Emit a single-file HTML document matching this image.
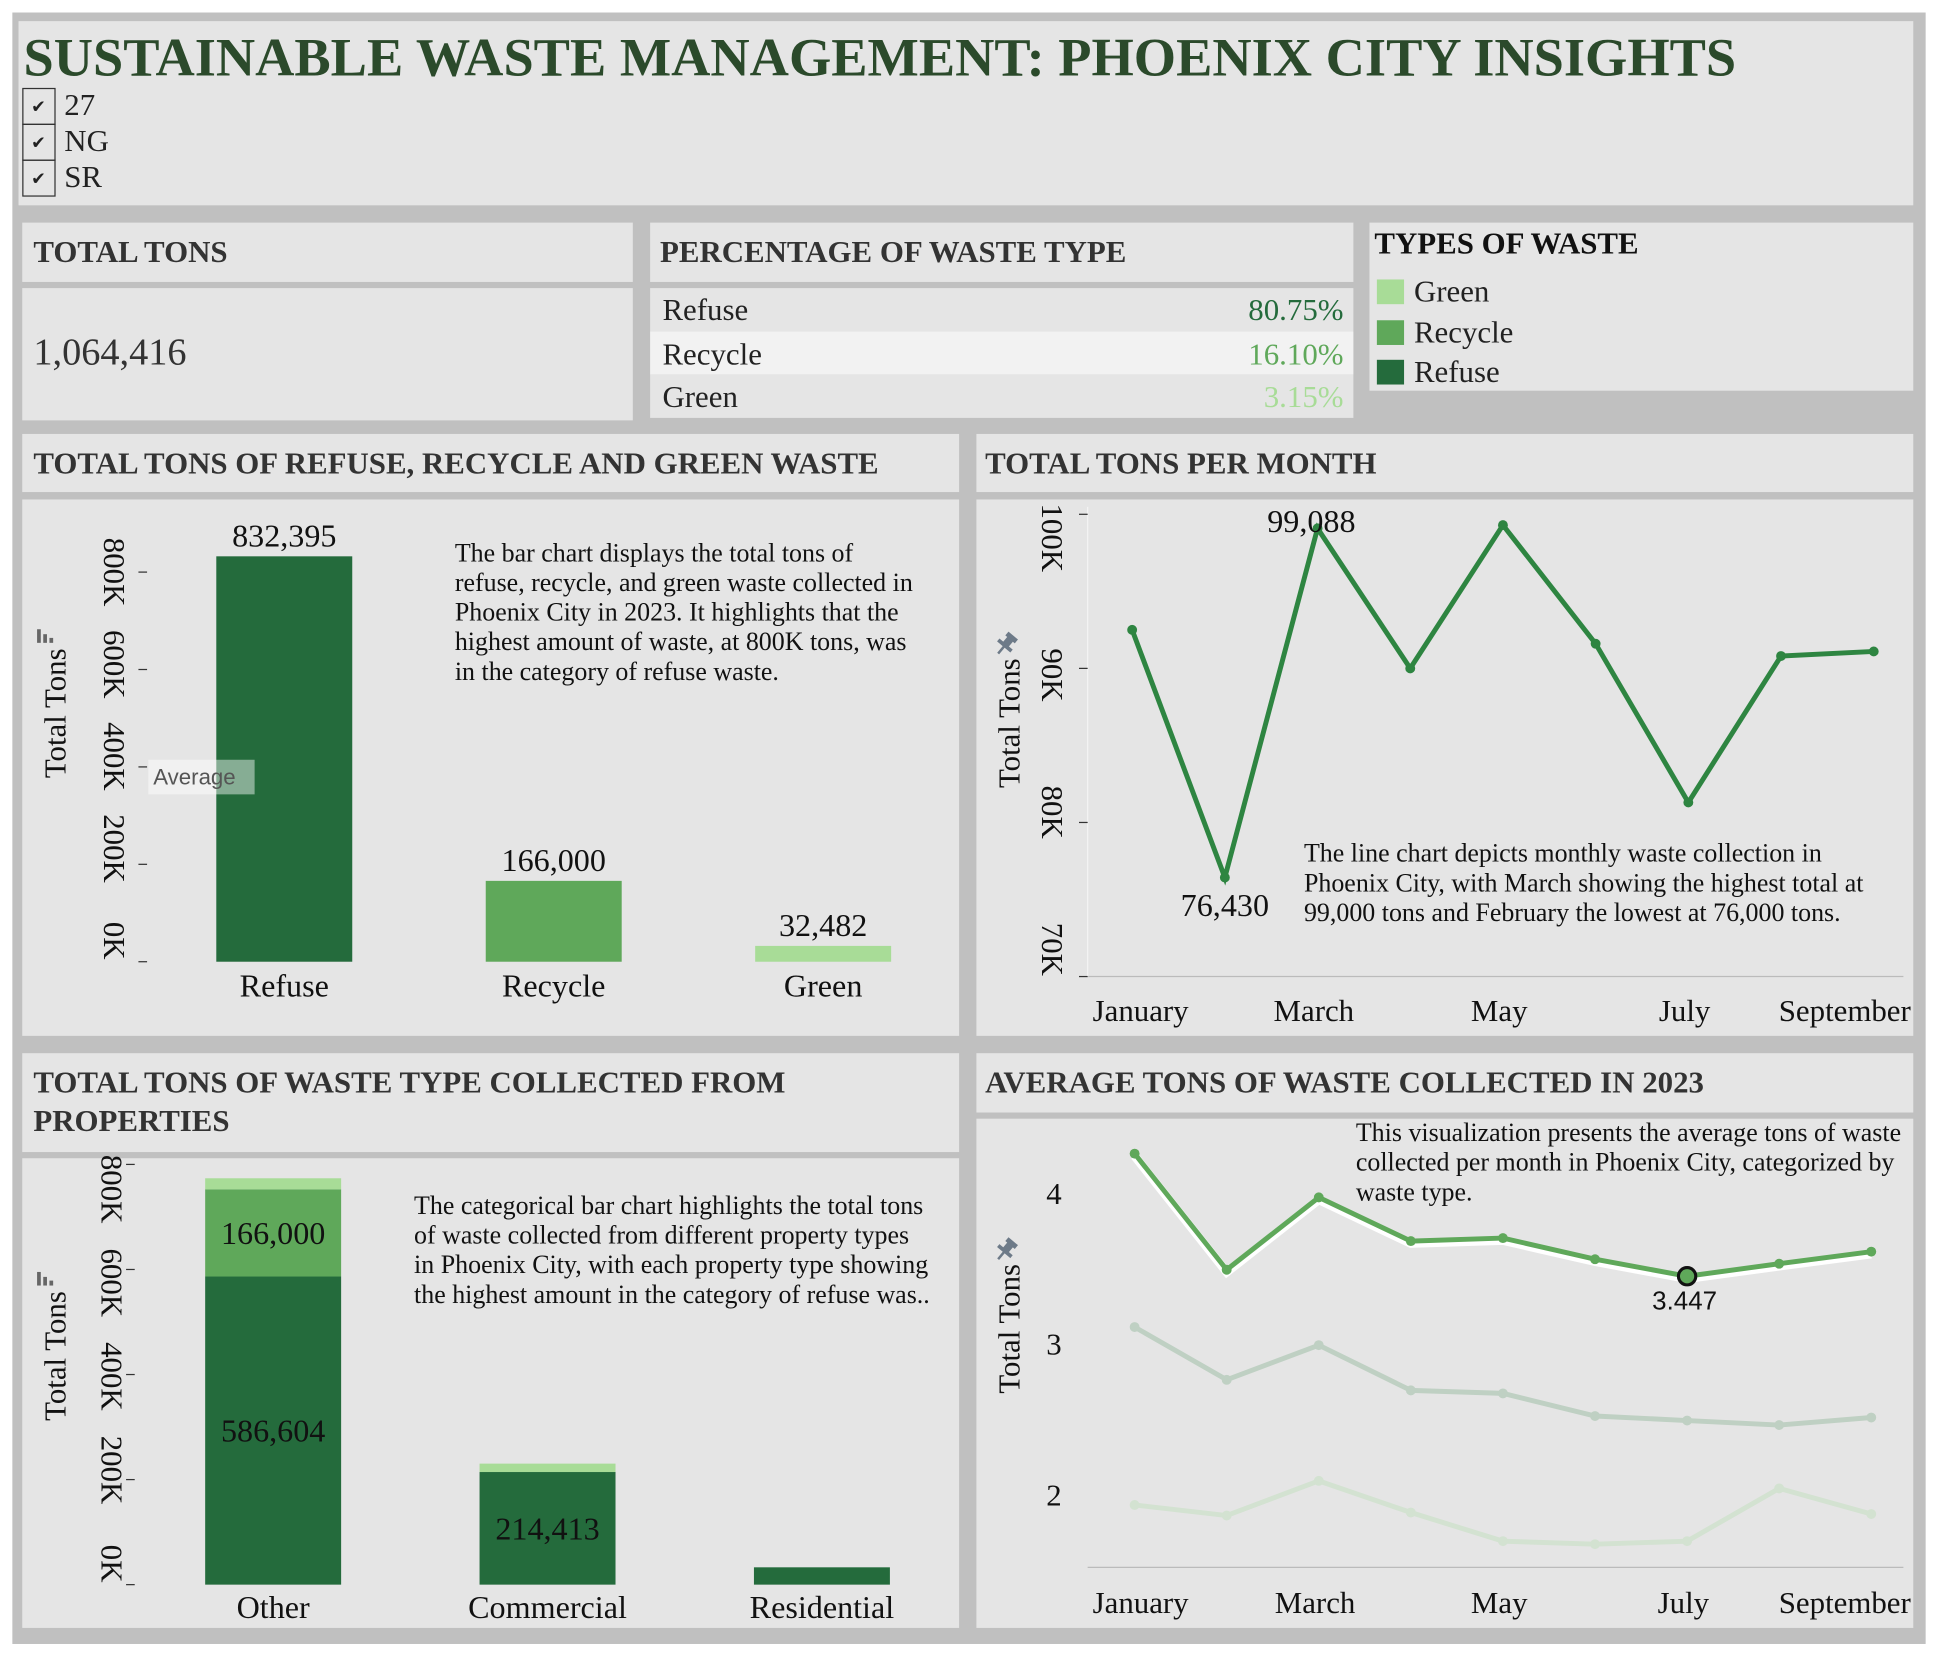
<!DOCTYPE html>
<html><head><meta charset="utf-8"><style>
html,body{margin:0;padding:0;background:#fff;width:1938px;height:1654px;overflow:hidden}
svg{display:block;font-family:"Liberation Serif",serif}
</style></head><body>
<svg id="s" width="1938" height="1654" viewBox="0 0 1568 1338" xmlns="http://www.w3.org/2000/svg">
<rect x="10" y="10" width="1548" height="1320" fill="#c0c0c0"/>
<g>
<rect x="15" y="17" width="1533" height="149" fill="#e5e5e5"/>
<text x="19" y="61" font-size="44" font-weight="bold" fill="#2b4a2b">SUSTAINABLE WASTE MANAGEMENT: PHOENIX CITY INSIGHTS</text>
<g><rect x="18.5" y="71.5" width="26" height="29" fill="none" stroke="#333"/><text x="31" y="91" font-size="14" text-anchor="middle" fill="#222">✔</text><text x="52" y="93" font-size="25" fill="#222">27</text></g>
<g><rect x="18.5" y="100.5" width="26" height="29" fill="none" stroke="#333"/><text x="31" y="120" font-size="14" text-anchor="middle" fill="#222">✔</text><text x="52" y="122" font-size="25" fill="#222">NG</text></g>
<g><rect x="18.5" y="129.5" width="26" height="29" fill="none" stroke="#333"/><text x="31" y="149" font-size="14" text-anchor="middle" fill="#222">✔</text><text x="52" y="151" font-size="25" fill="#222">SR</text></g>
</g>
<g>
<rect x="18" y="180" width="494" height="48" fill="#e5e5e5"/>
<text x="27" y="212" font-size="25" font-weight="bold" fill="#333">TOTAL TONS</text>
<rect x="18" y="233" width="494" height="107" fill="#e5e5e5"/>
<text x="27" y="295" font-size="31" fill="#333">1,064,416</text>
</g>
<g>
<rect x="526" y="180" width="569" height="48" fill="#e5e5e5"/>
<text x="534" y="212" font-size="25" font-weight="bold" fill="#333">PERCENTAGE OF WASTE TYPE</text>
<rect x="526" y="233" width="569" height="35" fill="#e5e5e5"/>
<rect x="526" y="268" width="569" height="35" fill="#f2f2f2"/>
<rect x="526" y="303" width="569" height="35" fill="#e5e5e5"/>
<text x="536" y="259" font-size="25" fill="#222">Refuse</text><text x="1087" y="259" font-size="25" text-anchor="end" fill="#246b3c">80.75%</text>
<text x="536" y="295" font-size="25" fill="#222">Recycle</text><text x="1087" y="295" font-size="25" text-anchor="end" fill="#5fa85a">16.10%</text>
<text x="536" y="329" font-size="25" fill="#222">Green</text><text x="1087" y="329" font-size="25" text-anchor="end" fill="#a8dc97">3.15%</text>
</g>
<g>
<rect x="1108" y="180" width="440" height="136" fill="#e5e5e5"/>
<text x="1112" y="205" font-size="25" font-weight="bold" fill="#111">TYPES OF WASTE</text>
<rect x="1114" y="226" width="22" height="20" fill="#a8dc97"/><text x="1144" y="244" font-size="25" fill="#222">Green</text>
<rect x="1114" y="259" width="22" height="20" fill="#5fa85a"/><text x="1144" y="277" font-size="25" fill="#222">Recycle</text>
<rect x="1114" y="291" width="22" height="20" fill="#246b3c"/><text x="1144" y="309" font-size="25" fill="#222">Refuse</text>
</g>
<rect x="18" y="351" width="758" height="47" fill="#e5e5e5"/>
<text x="27" y="383" font-size="25" font-weight="bold" fill="#333">TOTAL TONS OF REFUSE, RECYCLE AND GREEN WASTE</text>
<rect x="18" y="404" width="758" height="434" fill="#e5e5e5"/>
<rect x="790" y="351" width="758" height="47" fill="#e5e5e5"/>
<text x="797" y="383" font-size="25" font-weight="bold" fill="#333">TOTAL TONS PER MONTH</text>
<rect x="790" y="404" width="758" height="434" fill="#e5e5e5"/>
<rect x="18" y="852" width="758" height="80" fill="#e5e5e5"/>
<text x="27" y="884" font-size="25" font-weight="bold" fill="#333">TOTAL TONS OF WASTE TYPE COLLECTED FROM</text>
<text x="27" y="915" font-size="25" font-weight="bold" fill="#333">PROPERTIES</text>
<rect x="18" y="937" width="758" height="380" fill="#e5e5e5"/>
<rect x="790" y="852" width="758" height="48" fill="#e5e5e5"/>
<text x="797" y="884" font-size="25" font-weight="bold" fill="#333">AVERAGE TONS OF WASTE COLLECTED IN 2023</text>
<rect x="790" y="905" width="758" height="412" fill="#e5e5e5"/>

<g font-size="21" fill="#111">
<text x="368" y="454">The bar chart displays the total tons of</text>
<text x="368" y="478">refuse, recycle, and green waste collected in</text>
<text x="368" y="502">Phoenix City in 2023. It highlights that the</text>
<text x="368" y="526">highest amount of waste, at 800K tons, was</text>
<text x="368" y="550">in the category of refuse waste.</text>
<text x="1055" y="697">The line chart depicts monthly waste collection in</text>
<text x="1055" y="721">Phoenix City, with March showing the highest total at</text>
<text x="1055" y="745">99,000 tons and February the lowest at 76,000 tons.</text>
<text x="335" y="982">The categorical bar chart highlights the total tons</text>
<text x="335" y="1006">of waste collected from different property types</text>
<text x="335" y="1030">in Phoenix City, with each property type showing</text>
<text x="335" y="1054">the highest amount in the category of refuse was..</text>
<text x="1097" y="923">This visualization presents the average tons of waste</text>
<text x="1097" y="947">collected per month in Phoenix City, categorized by</text>
<text x="1097" y="971">waste type.</text>
</g>
<g id="c1"></g><g id="c2"></g><g id="c3"></g><g id="c4"></g>
</svg>
<script>
const NS="http://www.w3.org/2000/svg";
function mk(p,t,a,txt){const e=document.createElementNS(NS,t);for(const k in a)e.setAttribute(k,a[k]);if(txt!==undefined)e.textContent=txt;p.appendChild(e);return e;}
// Chart 1 data
const c1Cats=["Refuse","Recycle","Green"];
const c1Vals=[832395,166000,32482];
const c1Ticks=[0,200000,400000,600000,800000];
const c1TickLabels=["0K","200K","400K","600K","800K"];
// Chart 2 data
const c2Months=["January","February","March","April","May","June","July","August","September"];
const c2Vals=[92500,76430,99088,90000,99300,91600,81300,90800,91100];
const c2Ticks=[70000,80000,90000,100000];
const c2TickLabels=["70K","80K","90K","100K"];
// Chart 3 data
const c3Cats=["Other","Commercial","Residential"];
const c3Refuse=[586604,214413,33000];
const c3Recycle=[166000,0,0];
const c3Green=[21000,16000,0];
const c3Ticks=[0,200000,400000,600000,800000];
const c3TickLabels=["0K","200K","400K","600K","800K"];
// Chart 4 data
const c4Recycle=[4.26,3.49,3.97,3.68,3.70,3.56,3.447,3.53,3.61];
const c4Refuse=[3.11,2.76,2.99,2.69,2.67,2.52,2.49,2.46,2.51];
const c4Green=[1.93,1.86,2.09,1.88,1.69,1.67,1.69,2.04,1.87];
const c4Ticks=[2,3,4];
const labelMonths=["January","March","May","July","September"];
const COL={refuse:"#246b3c",recycle:"#5fa85a",green:"#a8dc97"};

function barIcon(g,x,y){ // small bar-glyph icon rotated
 const gg=mk(g,"g",{transform:`translate(${x},${y}) rotate(-90)`,fill:"#666"});
 mk(gg,"rect",{x:0,y:-10,width:11,height:3});mk(gg,"rect",{x:0,y:-5,width:7,height:3});mk(gg,"rect",{x:0,y:0,width:4,height:3});
}
function pinIcon(g,x,y){
 const gg=mk(g,"g",{transform:`translate(${x},${y}) rotate(40)`,fill:"#6d7a88"});
 mk(gg,"rect",{x:-5,y:-9,width:10,height:4});mk(gg,"rect",{x:-3,y:-6,width:6,height:7});mk(gg,"rect",{x:-7,y:0,width:14,height:3});mk(gg,"rect",{x:-1,y:2,width:2,height:8});
}
// rotated tick labels: spread evenly between end positions (reference layout)
function rotLabels(g,x,labels,ticksY,topC,botC){
 const n=labels.length;
 labels.forEach((lb,i)=>{
  const c=botC+(topC-botC)*(i/(n-1));
  const l=mk(g,"text",{transform:`translate(${x},${c}) rotate(90)`,"font-size":25,"text-anchor":"middle",fill:"#111"},lb);
  
  
 });
}

// ---- chart 1
(function(){
const g=document.getElementById("c1");
const y=v=>778-v*(328/832395);
const x=i=>230+i*218;
c1Ticks.forEach((t,i)=>{const yy=y(t);
 const tk=mk(g,"line",{x1:112,x2:119,y1:yy,y2:yy,stroke:"#333"});
 
 });
rotLabels(g,84,c1TickLabels,null,y(800000),y(0)-17);
const yt=mk(g,"text",{transform:"translate(53,577) rotate(-90)","font-size":25,"text-anchor":"middle",fill:"#111"},"Total Tons");


barIcon(g,40,520);
const cols=[COL.refuse,COL.recycle,COL.green];
c1Vals.forEach((v,i)=>{
 const b=mk(g,"rect",{x:x(i)-55,y:y(v),width:110,height:778-y(v),fill:cols[i]});
 
 
 const l=mk(g,"text",{x:x(i),y:y(v)-8,"font-size":26,"text-anchor":"middle",fill:"#111"},v.toLocaleString("en-US"));
 
 
 const c=mk(g,"text",{x:x(i),y:806,"font-size":26,"text-anchor":"middle",fill:"#111"},c1Cats[i]);
 
 
});
const avg=c1Vals.reduce((a,b)=>a+b,0)/c1Vals.length;
const ab=mk(g,"rect",{x:120,y:y(avg)-28,width:86,height:28,fill:"#fff","fill-opacity":0.45});


const at=mk(g,"text",{x:124,y:y(avg)-8,"font-size":18,fill:"#555","font-family":"Liberation Sans, sans-serif"},"Average");


})();

function monthLabels(g,x,yy){
 c2Months.forEach((m,i)=>{ if(labelMonths.includes(m)){
  let a="middle",px=x(i)-3;
  if(i===0){a="start";px=884;}
  if(i===c2Months.length-1){a="end";px=1546;}
  const l=mk(g,"text",{x:px,y:yy,"font-size":25,"text-anchor":a,fill:"#111"},m);
  
  }});
}

// ---- chart 2
(function(){
const g=document.getElementById("c2");
const y=v=>416+(100000-v)*(374/30000);
const x=i=>916+i*75;
const ax=mk(g,"line",{x1:880,x2:1540,y1:790,y2:790,stroke:"#bbb"});


mk(g,"line",{x1:880,x2:880,y1:410,y2:790,stroke:"#f4f4f4"});
c2Ticks.forEach((t,i)=>{const yy=y(t);
 mk(g,"line",{x1:873,x2:880,y1:yy,y2:yy,stroke:"#333"});});
rotLabels(g,843,c2TickLabels,null,y(100000)+19,y(70000)-22);
const yt=mk(g,"text",{transform:"translate(825,585) rotate(-90)","font-size":25,"text-anchor":"middle",fill:"#111"},"Total Tons");


pinIcon(g,814,521);
monthLabels(g,x,826);
const ln=mk(g,"polyline",{points:c2Vals.map((v,i)=>x(i)+","+y(v)).join(" "),fill:"none",stroke:"#2e8541","stroke-width":4});


c2Vals.forEach((v,i)=>{const p=mk(g,"circle",{cx:x(i),cy:y(v),r:4,fill:"#2e8541"});
 
 });
const mn=c2Vals.indexOf(Math.min(...c2Vals));
const l1=mk(g,"text",{x:x(2)-5,y:y(c2Vals[2])+3,"font-size":26,"text-anchor":"middle",fill:"#111"},c2Vals[2].toLocaleString("en-US"));


const l2=mk(g,"text",{x:x(mn),y:y(c2Vals[mn])+31,"font-size":26,"text-anchor":"middle",fill:"#111"},c2Vals[mn].toLocaleString("en-US"));


})();

// ---- chart 3
(function(){
const g=document.getElementById("c3");
const y=v=>1282-v*(340/800000);
const x=i=>221+i*222;
c3Ticks.forEach((t,i)=>{const yy=y(t);
 mk(g,"line",{x1:102,x2:109,y1:yy,y2:yy,stroke:"#333"});});
rotLabels(g,82,c3TickLabels,null,y(800000)+20,y(0)-17);
const yt=mk(g,"text",{transform:"translate(53,1097) rotate(-90)","font-size":25,"text-anchor":"middle",fill:"#111"},"Total Tons");


barIcon(g,40,1040);
c3Cats.forEach((c,i)=>{
 let base=0;
 [[c3Refuse,COL.refuse,"refuse"],[c3Recycle,COL.recycle,"recycle"],[c3Green,COL.green,"green"]].forEach(([arr,col,nm])=>{
  const v=arr[i]; if(v<=0)return;
  const r=mk(g,"rect",{x:x(i)-55,y:y(base+v),width:110,height:y(base)-y(base+v),fill:col});
  
  
  if(v>100000){
   const t=mk(g,"text",{x:x(i),y:(y(base)+y(base+v))/2+9,"font-size":26,"text-anchor":"middle",fill:"#111"},v.toLocaleString("en-US"));
   
   }
  base+=v;});
 const cl=mk(g,"text",{x:x(i),y:1309,"font-size":26,"text-anchor":"middle",fill:"#111"},c);
 
 
});
})();

// ---- chart 4
(function(){
const g=document.getElementById("c4");
const y=v=>1209-(v-2)*122;
const x=i=>918+i*74.5;
mk(g,"line",{x1:880,x2:1540,y1:1268,y2:1268,stroke:"#bbb"});
c4Ticks.forEach(t=>{const l=mk(g,"text",{x:859,y:y(t)+9,"font-size":25,"text-anchor":"end",fill:"#111"},String(t));
 
 });
const yt=mk(g,"text",{transform:"translate(825,1075) rotate(-90)","font-size":25,"text-anchor":"middle",fill:"#111"},"Total Tons");


pinIcon(g,814,1011);
monthLabels(g,x,1305);
[[c4Green,"#d3e2d1","green"],[c4Refuse,"#bfd0c3","refuse"],[c4Recycle,"#5fa85a","recycle"]].forEach(([arr,col,nm])=>{
 const pts=arr.map((v,i)=>x(i)+","+y(v)).join(" ");
 if(nm==="recycle") mk(g,"polyline",{points:pts,fill:"none",stroke:"#fff","stroke-width":7,transform:"translate(0,2)"});
 const ln=mk(g,"polyline",{points:pts,fill:"none",stroke:col,"stroke-width":4});
 
 
 arr.forEach((v,i)=>{const p=mk(g,"circle",{cx:x(i),cy:y(v),r:4,fill:col});
  
  });
});
const hi=mk(g,"circle",{cx:x(6),cy:y(c4Recycle[6]),r:7,fill:"#5fa85a",stroke:"#111","stroke-width":2.5});


const hl=mk(g,"text",{x:x(6)-2,y:y(c4Recycle[6])+27,"font-size":21,"text-anchor":"middle",fill:"#111","font-family":"Liberation Sans, sans-serif"},String(c4Recycle[6]));


})();
</script>
</body></html>
